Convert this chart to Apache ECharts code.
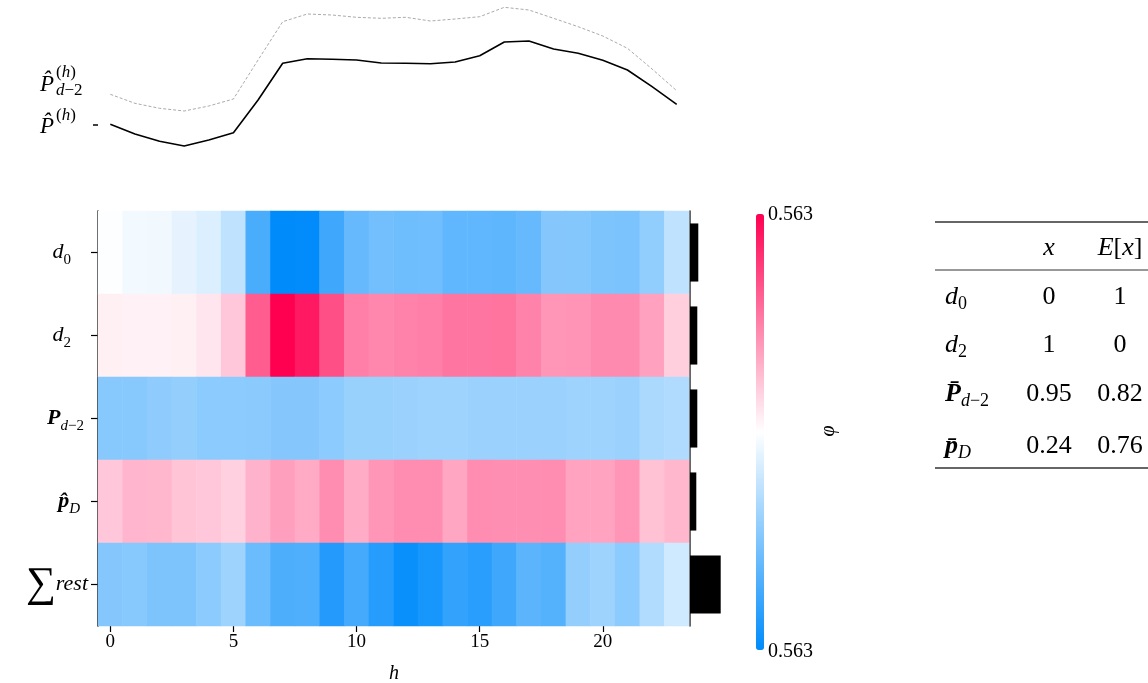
<!DOCTYPE html>
<html><head><meta charset="utf-8">
<script src="https://cdn.jsdelivr.net/npm/echarts@6/dist/echarts.min.js"></script>
<style>html,body{margin:0;padding:0;background:#fff}#c{width:1148px;height:683px}</style>
</head><body><div id="c"></div>
<script>
// ---------------- data ----------------
const hours = ['0','1','2','3','4','5','6','7','8','9','10','11','12','13','14','15','16','17','18','19','20','21','22','23'];
const rowKeys = ['d0', 'd2', 'P_d-2', 'p_D', 'rest'];
const phiD0   = [-0.006,-0.028,-0.031,-0.056,-0.079,-0.141,-0.400,-0.563,-0.558,-0.422,-0.338,-0.310,-0.321,-0.315,-0.349,-0.349,-0.355,-0.338,-0.270,-0.272,-0.287,-0.293,-0.242,-0.141];
const phiD2   = [0.034,0.031,0.031,0.034,0.056,0.124,0.360,0.563,0.507,0.388,0.282,0.265,0.276,0.282,0.304,0.304,0.310,0.276,0.231,0.236,0.259,0.259,0.208,0.107];
const phiP    = [-0.265,-0.265,-0.248,-0.236,-0.253,-0.253,-0.259,-0.270,-0.270,-0.253,-0.225,-0.225,-0.220,-0.214,-0.214,-0.220,-0.220,-0.220,-0.220,-0.214,-0.214,-0.220,-0.186,-0.175];
const phiPD   = [0.124,0.163,0.158,0.129,0.124,0.101,0.169,0.211,0.186,0.253,0.180,0.231,0.253,0.253,0.197,0.253,0.248,0.248,0.253,0.203,0.203,0.231,0.135,0.160];
const phiRest = [-0.270,-0.265,-0.287,-0.287,-0.253,-0.214,-0.327,-0.394,-0.388,-0.484,-0.411,-0.479,-0.540,-0.512,-0.450,-0.473,-0.422,-0.360,-0.377,-0.236,-0.214,-0.253,-0.169,-0.107];
const rowBars = [0.083, 0.073, 0.073, 0.063, 0.307];
const predLine = [0.357,0.26,0.187,0.14,0.20,0.273,0.60,0.967,1.013,1.007,1.00,0.97,0.967,0.963,0.98,1.043,1.18,1.19,1.11,1.067,0.997,0.90,0.733,0.557];
const predD2Line = [0.657,0.567,0.517,0.49,0.54,0.61,1.00,1.383,1.46,1.45,1.427,1.417,1.427,1.39,1.41,1.433,1.527,1.50,1.417,1.333,1.24,1.117,0.91,0.693];
const colorLimit = 0.563;
const colorbarLabels = ['0.563', '0.563'];
const tableHeader = ['x', 'E[x]'];
const tableX  = ['0', '1', '0.95', '0.24'];
const tableEx = ['1', '0', '0.82', '0.76'];

// ---------------- build ----------------
const F = 'Liberation Serif';
const rows = [phiD0, phiD2, phiP, phiPD, phiRest];
const heatData = [];
rows.forEach((r, yi) => r.forEach((v, xi) => heatData.push([xi, yi, v])));

const rowLabelMap = {
  'd0': '{it|d}{sub|0}{sp|}',
  'd2': '{it|d}{sub|2}{sp|}',
  'P_d-2': '{bi|P}{subi|d}{sub|−2}{sp2|}',
  'p_D': '{bi|p̂}{subi|D}{sp3|}',
  'rest': '{sum|∑}{it|rest}'
};
const mathRich = {
  it: {fontFamily: F, fontStyle: 'italic', fontSize: 22, lineHeight: 30, color: '#000'},
  bi: {fontFamily: F, fontStyle: 'italic', fontWeight: 'bold', fontSize: 22, lineHeight: 30, color: '#000'},
  sub: {fontFamily: F, fontSize: 15, lineHeight: 15, verticalAlign: 'bottom', color: '#000'},
  subi: {fontFamily: F, fontStyle: 'italic', fontSize: 15, lineHeight: 15, verticalAlign: 'bottom', color: '#000'},
  sum: {fontFamily: F, fontSize: 42, lineHeight: 36, color: '#000'},
  sp: {width: 17}, sp2: {width: 4}, sp3: {width: 8}
};

const chart = echarts.init(document.getElementById('c'), null, {renderer: 'canvas'});

const supRich = {i: {fontFamily: F, fontStyle: 'italic', fontSize: 17}, n: {fontFamily: F, fontSize: 17}};
const graphics = [
  {type: 'text', x: 389, y: 664, style: {text: 'h', fontFamily: F, fontStyle: 'italic', fontSize: 20, fill: '#000'}},
  {type: 'text', x: 829, y: 431, rotation: Math.PI / 2, style: {text: 'φ', fontFamily: F, fontStyle: 'italic', fontSize: 20, fill: '#000', align: 'center', verticalAlign: 'middle'}},
  {type: 'text', x: 768, y: 215, style: {text: colorbarLabels[0], fontFamily: F, fontSize: 20, fill: '#000', verticalAlign: 'middle'}},
  {type: 'text', x: 768, y: 652, style: {text: colorbarLabels[1], fontFamily: F, fontSize: 20, fill: '#000', verticalAlign: 'middle'}},
  // line-chart labels
  {type: 'text', x: 40, y: 127, style: {text: 'P̂', fontFamily: F, fontStyle: 'italic', fontSize: 23, fill: '#000', verticalAlign: 'middle'}},
  {type: 'text', x: 56, y: 116, style: {text: '{n|(}{i|h}{n|)}', rich: supRich, fontFamily: F, fontSize: 17, fill: '#000', verticalAlign: 'middle'}},
  {type: 'text', x: 40, y: 85, style: {text: 'P̂', fontFamily: F, fontStyle: 'italic', fontSize: 23, fill: '#000', verticalAlign: 'middle'}},
  {type: 'text', x: 56, y: 73, style: {text: '{n|(}{i|h}{n|)}', rich: supRich, fontFamily: F, fontSize: 17, fill: '#000', verticalAlign: 'middle'}},
  {type: 'text', x: 56, y: 91, style: {text: '{i|d}{n|−2}', rich: supRich, fontFamily: F, fontSize: 17, fill: '#000', verticalAlign: 'middle'}},
  // table rules
  {type: 'line', shape: {x1: 935, y1: 222, x2: 1148, y2: 222}, style: {stroke: '#333', lineWidth: 1.5}},
  {type: 'line', shape: {x1: 935, y1: 270, x2: 1148, y2: 270}, style: {stroke: '#333', lineWidth: 1}},
  {type: 'line', shape: {x1: 935, y1: 468, x2: 1148, y2: 468}, style: {stroke: '#333', lineWidth: 1.5}},
  // table header
  {type: 'text', x: 1049, y: 248, style: {text: tableHeader[0], fontFamily: F, fontStyle: 'italic', fontSize: 26, fill: '#000', align: 'center', verticalAlign: 'middle'}},
  {type: 'text', x: 1120, y: 248, style: {text: '{i|E}{n|[}{i|x}{n|]}', fontFamily: F, fontSize: 26, fill: '#000', align: 'center', verticalAlign: 'middle',
    rich: {i: {fontFamily: F, fontStyle: 'italic', fontSize: 26}, n: {fontFamily: F, fontSize: 26}}}},
];
const tRich = {
  it: {fontFamily: F, fontStyle: 'italic', fontSize: 26, lineHeight: 32},
  bi: {fontFamily: F, fontStyle: 'italic', fontWeight: 'bold', fontSize: 26, lineHeight: 32},
  sub: {fontFamily: F, fontSize: 18, lineHeight: 16, verticalAlign: 'bottom'},
  subi: {fontFamily: F, fontStyle: 'italic', fontSize: 18, lineHeight: 16, verticalAlign: 'bottom'}
};
const tRowLabels = ['{it|d}{sub|0}', '{it|d}{sub|2}', '{bi|P̄}{subi|d}{sub|−2}', '{bi|p̄}{subi|D}'];
const tRowY = [297, 345, 394, 446];
tRowLabels.forEach((lab, i) => {
  graphics.push({type: 'text', x: 945, y: tRowY[i], style: {text: lab, rich: tRich, fontFamily: F, fontSize: 26, fill: '#000', verticalAlign: 'middle'}});
  graphics.push({type: 'text', x: 1049, y: tRowY[i], style: {text: tableX[i], fontFamily: F, fontSize: 26, fill: '#000', align: 'center', verticalAlign: 'middle'}});
  graphics.push({type: 'text', x: 1120, y: tRowY[i], style: {text: tableEx[i], fontFamily: F, fontSize: 26, fill: '#000', align: 'center', verticalAlign: 'middle'}});
});

const option = {
  animation: false,
  backgroundColor: '#fff',
  grid: [
    {left: 98, top: 211, width: 591, height: 415},
    {left: 98, top: 0, width: 591, height: 160},
    {left: 690, top: 211, width: 50, height: 415}
  ],
  xAxis: [
    {type: 'category', gridIndex: 0, data: hours,
      axisLine: {show: false},
      axisTick: {show: true, alignWithLabel: true, length: 6, interval: (i) => i % 5 === 0, lineStyle: {color: '#000', width: 1.2}},
      axisLabel: {interval: (i) => i % 5 === 0, fontFamily: F, fontSize: 19, color: '#000', margin: 7},
      splitLine: {show: false}},
    {type: 'category', gridIndex: 1, data: hours, boundaryGap: true, show: false},
    {type: 'value', gridIndex: 2, min: 0, max: 0.5, show: false}
  ],
  yAxis: [
    {type: 'category', gridIndex: 0, data: rowKeys, inverse: true,
      axisLine: {show: true, lineStyle: {color: '#000', width: 1.5}},
      axisTick: {show: true, alignWithLabel: true, length: 7, lineStyle: {color: '#000', width: 1.2}},
      axisLabel: {margin: 10, formatter: (v) => rowLabelMap[v], rich: mathRich},
      splitLine: {show: false}},
    {type: 'value', gridIndex: 1, min: 0, max: 1.6,
      axisLine: {show: false}, splitLine: {show: false}, axisLabel: {show: false},
      axisTick: {show: true, length: 5, customValues: [predLine[0]], lineStyle: {color: '#000', width: 1.5}}},
    {type: 'category', gridIndex: 2, data: rowKeys, inverse: true,
      axisLine: {show: true, lineStyle: {color: '#333', width: 1.5}},
      axisTick: {show: false}, axisLabel: {show: false}}
  ],
  visualMap: {
    type: 'continuous', seriesIndex: 0, min: -colorLimit, max: colorLimit,
    calculable: false, show: true, left: 756, top: 214, itemWidth: 8, itemHeight: 436,
    padding: 0, text: null, hoverLink: false,
    inRange: {color: ['#008bfb', '#ffffff', '#ff0051']}
  },
  series: [
    {type: 'heatmap', xAxisIndex: 0, yAxisIndex: 0, data: heatData, itemStyle: {borderWidth: 0}, emphasis: {disabled: true}},
    {type: 'line', xAxisIndex: 1, yAxisIndex: 1, data: predD2Line, symbol: 'none',
      lineStyle: {color: '#aaaaaa', width: 1, type: [3, 2]}},
    {type: 'line', xAxisIndex: 1, yAxisIndex: 1, data: predLine, symbol: 'none',
      lineStyle: {color: '#000', width: 1.6}},
    {type: 'bar', xAxisIndex: 2, yAxisIndex: 2, data: rowBars, barWidth: '70%', itemStyle: {color: '#000'}}
  ],
  graphic: graphics
};
chart.setOption(option);
</script></body></html>
